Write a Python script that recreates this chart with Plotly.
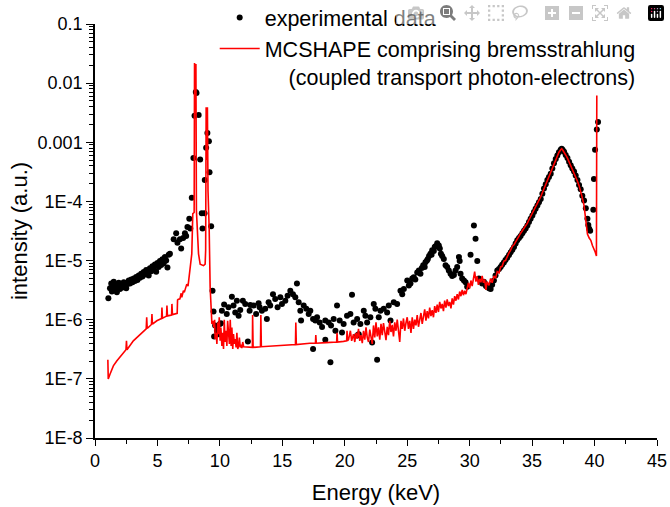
import plotly.graph_objects as go

# ---------------- data ----------------
exp_energy = [
    1.07, 1.2, 1.3, 1.35, 1.45, 1.5, 1.6, 1.7, 1.75, 1.85, 1.9, 2.0, 2.1, 2.2, 2.3, 2.4, 2.5, 2.6, 2.7, 2.8,
    2.9, 3.0, 3.1, 3.2, 3.3, 3.4, 3.5, 3.6, 3.7, 3.8, 3.9, 4.0, 4.1, 4.2, 4.3, 4.4, 4.5, 4.6, 4.7, 4.8,
    4.9, 5.0, 5.1, 5.2, 5.3, 5.4, 5.5, 5.6, 5.7, 5.8, 5.9, 6.0, 6.3, 6.5, 6.6, 6.8, 6.9, 7.06, 7.2, 7.3,
    7.4, 7.55, 7.63, 7.75, 7.88, 7.97, 8.07, 8.13, 8.3, 8.42, 8.55, 8.61, 8.77, 8.79, 8.9, 9.0, 9.12, 9.17, 9.3, 9.41,
    9.49, 9.54, 9.62, 9.76, 9.9, 10.0, 10.08, 10.16, 10.34, 10.55, 10.69, 10.96, 11.09, 11.23, 11.36, 11.5, 11.63, 11.84, 12.03, 12.24,
    12.38, 12.43, 12.7, 12.9, 13.1, 13.18, 13.36, 13.63, 13.76, 13.9, 14.03, 14.25, 14.43, 14.62, 14.84, 14.97, 15.24, 15.42, 15.64, 15.85,
    16.04, 16.17, 16.31, 16.44, 16.5, 16.71, 16.92, 17.11, 17.24, 17.46, 17.46, 17.64, 17.78, 17.99, 18.18, 18.44, 18.44, 18.71, 18.85, 18.9,
    19.11, 19.25, 19.38, 19.59, 19.78, 19.91, 20.18, 20.45, 20.58, 20.71, 20.99, 20.99, 21.12, 21.25, 21.52, 21.65, 21.79, 22.05, 22.19, 22.32,
    22.45, 22.59, 22.72, 22.86, 23.12, 23.39, 23.52, 23.66, 23.92, 24.19, 24.46, 24.6, 24.73, 25.0, 25.13, 25.26, 25.4, 25.53, 25.65, 25.8,
    25.93, 26.06, 26.17, 26.28, 26.4, 26.46, 26.58, 26.65, 26.75, 26.86, 26.95, 27.0, 27.13, 27.2, 27.27, 27.4, 27.53, 27.61, 27.7, 27.8,
    27.93, 28.07, 28.2, 28.33, 28.47, 28.6, 28.74, 28.87, 29.0, 29.14, 29.2, 29.27, 29.4, 29.54, 29.67, 29.8, 30.07, 30.34, 30.47, 30.61,
    30.74, 30.87, 31.0, 31.14, 31.3, 31.41, 31.55, 31.68, 31.8, 31.94, 32.07, 32.21, 32.35, 32.48, 32.6, 32.74, 32.87, 33.01, 33.15, 33.28,
    33.42, 33.55, 33.68, 33.81, 33.95, 34.08, 34.22, 34.35, 34.48, 34.62, 34.75, 34.88, 35.02, 35.15, 35.28, 35.42, 35.55, 35.69, 35.82, 35.95,
    36.09, 36.22, 36.35, 36.49, 36.62, 36.75, 36.89, 37.02, 37.15, 37.29, 37.37, 37.45, 37.56, 37.69, 37.83, 37.96, 38.09, 38.22, 38.36, 38.49,
    38.63, 38.76, 38.89, 39.02, 39.16, 39.3, 39.43, 39.5, 39.57, 39.65, 39.9, 39.95, 40.04, 40.18, 40.28,
]
exp_intensity = [
    2.3e-6, 3.4e-6, 4.1e-6, 3.0e-6, 3.7e-6, 4.4e-6, 3.2e-6, 3.9e-6, 2.9e-6, 3.6e-6, 4.2e-6, 3.3e-6, 3.8e-6, 3.5e-6, 4.3e-6, 3.9e-6, 3.4e-6, 4.0e-6, 4.6e-6, 4.1e-6,
    4.8e-6, 4.3e-6, 5.0e-6, 4.5e-6, 5.3e-6, 4.7e-6, 5.6e-6, 5.1e-6, 6.0e-6, 5.4e-6, 6.4e-6, 5.8e-6, 6.9e-6, 6.2e-6, 5.6e-6, 7.4e-6, 6.6e-6, 8.0e-6, 7.1e-6, 8.6e-6,
    6.5e-6, 9.1e-6, 7.8e-6, 9.8e-6, 8.4e-6, 1.05e-5, 9.0e-6, 1.15e-5, 1.0e-5, 7.6e-6, 1.25e-5, 1.3e-5, 2.3e-5, 2.9e-5, 2.0e-5, 2.3e-5, 1.6e-5, 2.4e-5, 2.9e-5, 2.6e-5,
    3.7e-5, 5.1e-5, 3.5e-5, 1.15e-4, 5.4e-4, 2.8e-3, 7.1e-3, 6.8e-3, 2.9e-3, 5.1e-4, 6.3e-5, 3.5e-5, 6.3e-5, 2.3e-4, 8.1e-4, 1.44e-3, 1.04e-3, 3.1e-4, 3.8e-5, 3.1e-6,
    1.38e-6, 5.2e-7, 8.0e-7, 6.5e-7, 5.7e-7, 8.5e-7, 8.7e-7, 1.42e-6, 1.8e-6, 1.25e-6, 1.63e-6, 2.45e-6, 1.74e-6, 1.33e-6, 2.1e-6, 1.17e-6, 1.46e-6, 2.1e-6, 1.85e-6, 4.3e-7,
    1.42e-6, 1.78e-6, 1.74e-6, 1.25e-6, 1.9e-6, 1.63e-6, 1.42e-6, 1.53e-6, 1.03e-6, 1.97e-6, 1.74e-6, 2.7e-6, 2.25e-6, 1.63e-6, 2.4e-6, 1.85e-6, 2.1e-6, 2.55e-6, 3.1e-6, 2.7e-6,
    2.4e-6, 4.1e-6, 1.97e-6, 1.42e-6, 9.7e-7, 1.74e-6, 1.53e-6, 1.25e-6, 1.42e-6, 1.03e-6, 3.2e-7, 9.7e-7, 1.1e-6, 9.0e-7, 7.5e-7, 9.7e-7, 4.6e-7, 9.0e-7, 1.9e-7, 8.0e-7,
    1.03e-6, 6.5e-7, 1.74e-6, 9.7e-7, 6.1e-7, 8.5e-7, 1.17e-6, 1.25e-6, 2.65e-6, 9.0e-7, 1.03e-6, 5.4e-7, 5.7e-7, 8.5e-7, 1.42e-6, 1.17e-6, 9.0e-7, 1.1e-6, 4.1e-7, 1.85e-6,
    1.53e-6, 2.1e-7, 1.1e-6, 1.42e-6, 1.53e-6, 1.33e-6, 1.74e-6, 9.7e-7, 1.97e-6, 1.85e-6, 3.1e-6, 2.7e-6, 3.3e-6, 4.6e-6, 3.8e-6, 4.1e-6, 5.0e-6, 5.2e-6, 4.8e-6, 6.3e-6,
    6.8e-6, 6.0e-6, 7.5e-6, 8.3e-6, 7.8e-6, 9.4e-6, 1.0e-5, 1.06e-5, 1.2e-5, 1.3e-5, 1.25e-5, 1.5e-5, 1.45e-5, 1.7e-5, 1.75e-5, 1.96e-5, 1.8e-5, 1.6e-5, 1.3e-5, 1.2e-5,
    1.06e-5, 8.3e-6, 7.8e-6, 6.8e-6, 6.0e-6, 5.5e-6, 5.7e-6, 6.8e-6, 7.8e-6, 1.15e-5, 9.8e-6, 6.0e-6, 5.0e-6, 4.6e-6, 4.3e-6, 3.6e-6, 1.25e-5, 3.9e-5, 2.35e-5, 9.8e-6,
    5.0e-6, 4.6e-6, 4.1e-6, 4.4e-6, 3.7e-6, 3.6e-6, 3.4e-6, 3.3e-6, 3.9e-6, 4.6e-6, 5.6e-6, 6.8e-6, 7.2e-6, 7.8e-6, 8.5e-6, 9.3e-6, 1.02e-5, 1.12e-5, 1.24e-5, 1.38e-5,
    1.52e-5, 1.7e-5, 1.95e-5, 2.2e-5, 2.4e-5, 2.6e-5, 2.9e-5, 3.2e-5, 3.5e-5, 3.9e-5, 4.5e-5, 5.1e-5, 5.8e-5, 6.6e-5, 7.5e-5, 8.5e-5, 9.7e-5, 1.1e-4, 1.35e-4, 1.65e-4,
    1.95e-4, 2.3e-4, 2.6e-4, 2.95e-4, 3.6e-4, 4.4e-4, 5.2e-4, 6.0e-4, 6.8e-4, 7.5e-4, 7.8e-4, 7.4e-4, 6.9e-4, 6.1e-4, 5.4e-4, 4.7e-4, 4.1e-4, 3.6e-4, 3.2e-4, 2.75e-4,
    2.3e-4, 1.9e-4, 1.6e-4, 1.25e-4, 1.04e-4, 7.7e-5, 5.1e-5, 4.0e-5, 3.45e-5, 3.2e-5, 7.2e-5, 2.4e-4, 7.5e-4, 1.64e-3, 2.2e-3,
]

sim_energy = [
    1.03, 1.06, 1.2, 1.47, 1.74, 2.14, 2.48, 2.52, 2.56, 3.07, 3.61, 4.1, 4.14, 4.18, 4.52, 4.56, 4.6, 4.95, 5.33, 5.36,
    5.4, 5.73, 5.76, 5.8, 6.13, 6.16, 6.2, 6.58, 6.61, 6.65, 6.8, 6.9, 6.95, 7.08, 7.15, 7.25, 7.35, 7.45, 7.55, 7.62,
    7.75, 7.83, 7.94, 7.97, 8.04, 8.08, 8.12, 8.29, 8.42, 8.69, 8.82, 8.86, 8.9, 8.96, 9.0, 9.05, 9.14, 9.22, 9.3, 9.36,
    9.45, 9.52, 9.58, 9.62, 9.7, 9.76, 9.82, 9.89, 9.95, 10.02, 10.08, 10.16, 10.22, 10.29, 10.35, 10.42, 10.49, 10.56, 10.62, 10.69,
    10.76, 10.83, 10.9, 10.96, 11.03, 11.09, 11.16, 11.23, 11.3, 11.36, 11.43, 11.5, 11.56, 11.63, 11.7, 11.76, 11.83, 11.9, 12.2, 12.6,
    12.62, 12.66, 13.25, 13.28, 13.32, 14.5, 16.05, 16.08, 16.12, 17.2, 17.65, 17.68, 17.72, 18.5, 19.35, 19.38, 19.42, 19.9, 20.15, 20.18,
    20.22, 20.3, 20.45, 20.55, 20.7, 20.8, 20.9, 21.0, 21.1, 21.2, 21.3, 21.4, 21.5, 21.6, 21.7, 21.8, 21.9, 22.0, 22.1, 22.2,
    22.3, 22.4, 22.5, 22.6, 22.7, 22.8, 22.9, 23.0, 23.1, 23.2, 23.3, 23.4, 23.5, 23.6, 23.7, 23.8, 23.9, 24.0, 24.1, 24.2,
    24.3, 24.4, 24.5, 24.6, 24.7, 24.8, 24.9, 25.0, 25.1, 25.2, 25.3, 25.4, 25.5, 25.6, 25.7, 25.8, 25.9, 26.0, 26.1, 26.2,
    26.3, 26.4, 26.5, 26.6, 26.7, 26.8, 26.9, 27.0, 27.1, 27.2, 27.3, 27.4, 27.5, 27.6, 27.7, 27.8, 27.9, 28.0, 28.1, 28.2,
    28.3, 28.4, 28.5, 28.6, 28.7, 28.8, 28.9, 29.0, 29.1, 29.2, 29.3, 29.4, 29.5, 29.6, 29.7, 29.8, 29.9, 30.0, 30.1, 30.2,
    30.3, 30.4, 30.5, 30.6, 30.7, 30.8, 30.9, 31.0, 31.1, 31.2, 31.3, 31.4, 31.55, 31.68, 31.8, 31.94, 32.07, 32.21, 32.35, 32.48,
    32.6, 32.74, 32.87, 33.01, 33.15, 33.28, 33.42, 33.55, 33.68, 33.81, 33.95, 34.08, 34.22, 34.35, 34.48, 34.62, 34.75, 34.88, 35.02, 35.15,
    35.28, 35.42, 35.55, 35.69, 35.82, 35.95, 36.09, 36.22, 36.35, 36.49, 36.62, 36.75, 36.89, 37.02, 37.15, 37.29, 37.37, 37.45, 37.56, 37.69,
    37.83, 37.96, 38.09, 38.22, 38.36, 38.49, 38.63, 38.76, 38.89, 39.02, 39.16, 39.3, 39.43, 39.57, 39.7, 39.83, 39.95, 40.05, 40.15, 40.18,
]
sim_intensity = [
    2.1e-7, 1.0e-7, 1.2e-7, 1.66e-7, 2.0e-7, 2.6e-7, 3.1e-7, 4.4e-7, 3.1e-7, 4.4e-7, 5.7e-7, 7.0e-7, 1.1e-6, 7.1e-7, 8.3e-7, 1.25e-6, 8.4e-7, 9.6e-7, 1.05e-6, 1.6e-6,
    1.06e-6, 1.15e-6, 1.74e-6, 1.16e-6, 1.2e-6, 1.85e-6, 1.22e-6, 1.28e-6, 2.15e-6, 2.2e-6, 2.25e-6, 2.8e-6, 2.4e-6, 3.1e-6, 2.9e-6, 3.6e-6, 4.0e-6, 3.7e-6, 5.9e-6, 6.8e-6,
    1.3e-5, 6.2e-5, 6.5e-5, 2.2e-2, 3.0e-3, 2.1e-2, 7.0e-5, 1.3e-5, 8.7e-6, 8.2e-6, 8.7e-6, 1.5e-5, 3.9e-3, 5.0e-4, 3.9e-3, 1.5e-4, 3.6e-5, 3.5e-6, 1.6e-6, 8.5e-7,
    9.6e-7, 7.4e-7, 1.0e-6, 4.7e-7, 6.0e-7, 3.9e-7, 9.0e-7, 5.7e-7, 1.1e-6, 4.4e-7, 7.4e-7, 3.6e-7, 6.0e-7, 3.2e-7, 1.0e-6, 4.2e-7, 6.5e-7, 3.6e-7, 9.6e-7, 4.7e-7,
    3.9e-7, 1.0e-6, 3.6e-7, 7.4e-7, 3.2e-7, 5.7e-7, 3.9e-7, 4.7e-7, 3.4e-7, 6.0e-7, 3.2e-7, 3.6e-7, 5.0e-7, 3.4e-7, 3.8e-7, 3.3e-7, 4.2e-7, 3.5e-7, 3.5e-7, 3.4e-7,
    1.2e-6, 3.4e-7, 3.5e-7, 1.2e-6, 3.5e-7, 3.6e-7, 3.8e-7, 9.0e-7, 3.8e-7, 4.0e-7, 4.0e-7, 5.5e-7, 4.0e-7, 4.1e-7, 4.2e-7, 6.0e-7, 4.2e-7, 4.3e-7, 4.4e-7, 6.5e-7,
    4.4e-7, 4.6e-7, 6.5e-7, 4.4e-7, 5.7e-7, 4.2e-7, 6.0e-7, 4.8e-7, 7.0e-7, 4.4e-7, 5.5e-7, 4.0e-7, 6.5e-7, 4.6e-7, 7.4e-7, 5.0e-7, 4.2e-7, 6.8e-7, 4.8e-7, 3.9e-7,
    8.0e-7, 5.0e-7, 9.0e-7, 5.2e-7, 7.4e-7, 4.6e-7, 8.5e-7, 5.5e-7, 8.8e-7, 6.0e-7, 4.5e-7, 7.6e-7, 5.5e-7, 9.6e-7, 6.2e-7, 8.2e-7, 5.2e-7, 9.0e-7, 6.5e-7, 1.0e-6,
    7.0e-7, 4.2e-7, 9.6e-7, 7.0e-7, 1.05e-6, 6.5e-7, 8.8e-7, 1.1e-6, 7.0e-7, 9.6e-7, 6.0e-7, 1.1e-6, 7.0e-7, 1.0e-6, 8.0e-7, 1.2e-6, 7.6e-7, 1.05e-6, 1.3e-6, 8.5e-7,
    1.15e-6, 1.5e-6, 9.6e-7, 1.4e-6, 1.05e-6, 1.6e-6, 1.15e-6, 1.45e-6, 1.1e-6, 1.7e-6, 1.3e-6, 1.8e-6, 1.35e-6, 2.0e-6, 1.55e-6, 1.85e-6, 1.4e-6, 2.1e-6, 1.6e-6, 2.2e-6,
    1.7e-6, 2.0e-6, 1.55e-6, 2.3e-6, 1.8e-6, 2.5e-6, 2.1e-6, 2.7e-6, 2.2e-6, 3.0e-6, 2.5e-6, 3.2e-6, 2.6e-6, 3.1e-6, 2.7e-6, 3.6e-6, 4.2e-6, 3.4e-6, 4.6e-6, 3.7e-6,
    5.0e-6, 6.5e-6, 4.4e-6, 5.4e-6, 3.9e-6, 4.9e-6, 4.3e-6, 5.5e-6, 4.2e-6, 4.8e-6, 3.2e-6, 4.4e-6, 3.8e-6, 5.0e-6, 4.2e-6, 5.5e-6, 5.0e-6, 6.5e-6, 6.2e-6, 7.8e-6,
    8.0e-6, 9.8e-6, 1.0e-5, 1.2e-5, 1.35e-5, 1.5e-5, 1.75e-5, 1.85e-5, 2.1e-5, 2.3e-5, 2.6e-5, 2.9e-5, 3.2e-5, 3.5e-5, 3.9e-5, 4.3e-5, 4.9e-5, 5.5e-5, 6.2e-5, 7.0e-5,
    8.0e-5, 9.2e-5, 1.05e-4, 1.2e-4, 1.4e-4, 1.65e-4, 1.95e-4, 2.3e-4, 2.65e-4, 3.05e-4, 3.6e-4, 4.4e-4, 5.1e-4, 6.0e-4, 6.8e-4, 7.5e-4, 7.8e-4, 7.4e-4, 6.9e-4, 6.1e-4,
    5.4e-4, 4.7e-4, 4.1e-4, 3.6e-4, 3.1e-4, 2.7e-4, 2.2e-4, 1.85e-4, 1.5e-4, 1.15e-4, 8.5e-5, 4.2e-5, 2.8e-5, 2.4e-5, 2.2e-5, 1.8e-5, 1.6e-5, 1.4e-5, 1.2e-5, 6.2e-3,
]

x_tick_vals = [0, 5, 10, 15, 20, 25, 30, 35, 40, 45]
x_tick_text = ["0", "5", "10", "15", "20", "25", "30", "35", "40", "45"]
y_tick_vals = [1e-8, 1e-7, 1e-6, 1e-5, 1e-4, 1e-3, 1e-2, 1e-1]
y_tick_text = ["1E-8", "1E-7", "1E-6", "1E-5", "1E-4", "0.001", "0.01", "0.1"]
y_minor_vals = [m * 10.0 ** e for e in range(-8, -1) for m in range(2, 10)]

name_exp = "experimental data"
name_sim = ("MCSHAPE comprising bremsstrahlung<br>"
            "\u00a0\u00a0\u00a0\u00a0(coupled transport photon-electrons)")

FONT = "Arial, Liberation Sans, sans-serif"

fig = go.Figure()
fig.add_trace(go.Scatter(
    x=exp_energy, y=exp_intensity, mode="markers", name=name_exp,
    marker=dict(color="black", size=6, symbol="circle"),
))
fig.add_trace(go.Scatter(
    x=sim_energy, y=sim_intensity, mode="lines", name=name_sim,
    line=dict(color="#ff0000", width=1.6),
))

fig.update_layout(
    width=670, height=507,
    margin=dict(l=95, r=13, t=24, b=69, autoexpand=False),
    paper_bgcolor="white", plot_bgcolor="white",
    font=dict(family=FONT, color="black", size=18),
    legend=dict(
        x=0.213, y=1.065, xref="paper", yref="paper", xanchor="left", yanchor="top",
        bgcolor="rgba(0,0,0,0)", borderwidth=0,
        font=dict(family=FONT, size=21.5, color="black"),
        valign="top", tracegroupgap=0, itemwidth=40,
    ),
    showlegend=True,
)
fig.update_xaxes(
    range=[0, 45], tickmode="array", tickvals=x_tick_vals, ticktext=x_tick_text,
    ticks="outside", ticklen=6, tickwidth=1.2, tickcolor="black",
    minor=dict(dtick=2.5, ticks="outside", ticklen=4, tickwidth=1, tickcolor="black"),
    showline=True, linecolor="black", linewidth=1.5, showgrid=False, zeroline=False,
    ticklabeloverflow="allow",
    tickfont=dict(size=18, family=FONT),
    title=dict(text="Energy (keV)", font=dict(size=22, family=FONT), standoff=14),
)
fig.update_yaxes(
    type="log", range=[-8, -1], tickmode="array", tickvals=y_tick_vals, ticktext=y_tick_text,
    ticks="outside", ticklen=7, tickwidth=1.2, tickcolor="black",
    minor=dict(tickmode="array", tickvals=y_minor_vals, ticks="outside", ticklen=4,
               tickwidth=1, tickcolor="black", showgrid=False),
    showline=True, linecolor="black", linewidth=1.5, showgrid=False, zeroline=False,
    tickfont=dict(size=18, family=FONT),
    title=dict(text="intensity (a.u.)", font=dict(size=22, family=FONT), standoff=4),
)

# remove the default 8 px page margin so the 670x507 figure fills the window exactly
fig.write_html("out.html", post_script="document.body.style.margin='0';")
